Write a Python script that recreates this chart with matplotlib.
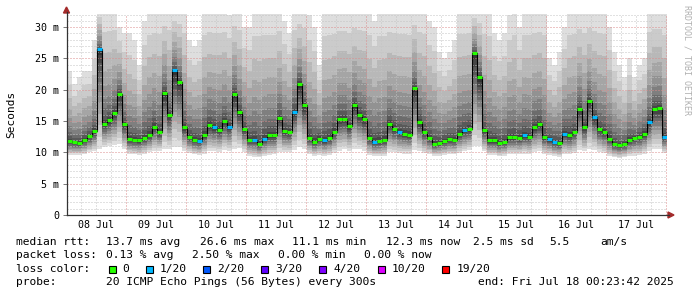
import numpy as np
import matplotlib
matplotlib.use("Agg")
import matplotlib.pyplot as plt
from matplotlib.patches import Rectangle, Polygon
from matplotlib.lines import Line2D

# ---------------- data (2-hour bins, start Jul 08 00:24) ----------------
bin_hours = 2
start_hour = 0.4  # hours after Jul 08 00:00

median_ms = [
    11.8, 11.6, 11.5, 12.0, 12.6, 13.4, 26.5, 14.6, 15.2, 16.3,
    19.3, 14.5, 12.1, 12.0, 11.9, 12.3, 12.8, 14.1, 13.2, 19.5,
    16.0, 23.1, 21.3, 14.0, 12.5, 12.0, 11.8, 12.8, 14.4, 14.0,
    13.6, 15.0, 14.1, 19.3, 16.4, 13.8, 12.0, 12.0, 11.4, 12.2,
    12.7, 12.7, 15.5, 13.4, 13.3, 16.5, 21.0, 17.5, 12.3, 11.7,
    12.2, 11.9, 12.3, 13.3, 15.3, 15.4, 14.2, 17.6, 16.0, 15.3,
    12.3, 11.7, 11.8, 12.0, 14.6, 13.8, 13.2, 13.0, 12.8, 20.3,
    14.8, 13.2, 12.3, 11.3, 11.5, 11.8, 12.1, 12.0, 13.0, 13.5,
    13.8, 25.8, 22.0, 13.5, 11.9, 11.9, 11.5, 11.6, 12.4, 12.4,
    12.3, 12.7, 12.5, 14.0, 14.5, 12.4, 12.1, 11.7, 11.5, 13.0,
    12.7, 13.2, 17.0, 14.0, 18.2, 15.6, 13.7, 13.2, 12.2, 11.3,
    11.1, 11.3, 12.0, 12.3, 12.5, 13.0, 14.8, 17.0, 17.1, 12.5,
]

smoke_max_ms = [
    23, 21, 22, 23, 23, 28, 33, 33, 33, 33, 30, 29, 29, 28, 24, 31, 33, 33, 33, 33, 33, 33, 33, 33,
    28, 27, 28, 33, 33, 33, 33, 33, 32, 33, 33, 30, 30, 33, 33, 33, 33, 33, 33, 31, 29, 33, 33, 33,
    32, 30, 24, 33, 33, 33, 33, 33, 33, 33, 33, 33, 33, 31, 33, 33, 33, 33, 33, 33, 33, 33, 33, 33,
    31, 30, 26, 25, 26, 28, 33, 33, 33, 33, 33, 33, 33, 29, 28, 29, 32, 33, 30, 33, 33, 33, 33, 33,
    25, 24, 26, 30, 33, 33, 33, 33, 33, 33, 33, 33, 30, 26, 24, 22, 25, 22, 24, 25, 33, 33, 33, 33,
]

smoke_min_ms = [
    9.6, 9.6, 9.6, 9.7, 10.0, 10.2, 10.6, 10.8, 11.0, 11.2, 11.3, 10.5, 9.8, 9.7, 9.6, 9.8, 10.0, 10.3, 10.3, 10.6, 10.6, 10.8, 10.8, 10.3,
    9.9, 9.7, 9.6, 9.8, 10.2, 10.2, 10.1, 10.4, 10.3, 10.6, 10.7, 10.1, 9.5, 9.3, 9.2, 9.4, 9.6, 9.7, 10.0, 10.0, 10.0, 10.4, 10.8, 10.5,
    9.8, 9.5, 9.6, 9.5, 9.6, 9.9, 10.3, 10.5, 10.3, 10.6, 10.5, 10.3, 9.6, 9.4, 9.4, 9.5, 10.0, 10.0, 9.9, 9.8, 9.8, 10.4, 10.2, 9.9,
    9.7, 9.5, 9.5, 9.6, 9.7, 9.7, 9.9, 10.2, 10.4, 11.0, 11.0, 10.2, 9.6, 9.6, 9.4, 9.5, 9.7, 9.7, 9.7, 9.8, 9.8, 10.0, 10.2, 9.8,
    9.6, 9.4, 9.3, 9.7, 9.7, 9.9, 10.4, 10.2, 10.6, 10.4, 10.1, 9.9, 9.5, 9.2, 9.1, 9.2, 9.4, 9.5, 9.6, 9.8, 10.3, 10.6, 10.6, 9.9,
]

# lost pings out of 20 per bin
loss_bins_1of20 = [6, 21, 26, 29, 32, 37, 39, 45, 51, 61, 66, 79, 91, 96, 97, 99, 105, 116, 119]

day_labels = ["08 Jul", "09 Jul", "10 Jul", "11 Jul", "12 Jul",
              "13 Jul", "14 Jul", "15 Jul", "16 Jul", "17 Jul"]
y_ticks = [0, 5, 10, 15, 20, 25, 30]
y_tick_labels = ["0", "5 m", "10 m", "15 m", "20 m", "25 m", "30 m"]

loss_labels = ["0", "1/20", "2/20", "3/20", "4/20", "10/20", "19/20"]
loss_colors = ["#26ff00", "#00b8ff", "#0059ff", "#5e00ff", "#7e00ff", "#dd00ff", "#ff0000"]

stats_rtt = ["13.7 ms avg", "26.6 ms max", "11.1 ms min", "12.3 ms now", "2.5 ms sd", "5.5", "am/s"]
stats_loss = ["0.13 % avg", "2.50 % max", "0.00 % min", "0.00 % now"]
probe_text = "20 ICMP Echo Pings (56 Bytes) every 300s"
end_text = "end: Fri Jul 18 00:23:42 2025"

# ---------------- figure ----------------
W, H = 697, 297
fig = plt.figure(figsize=(W / 100, H / 100), dpi=100)
fig.patch.set_facecolor("white")
MONO = "DejaVu Sans Mono"


def fx(x):
    return x / W


def fy(y):
    return 1 - y / H


ax = fig.add_axes([fx(67), fy(215), 600 / W, 201 / H])
ax.set_facecolor("white")
ax.set_xlim(start_hour, start_hour + 240)
ax.set_ylim(0, 32.1)

med = np.array(median_ms)
hi = np.array(smoke_max_ms, dtype=float)
lo = np.array(smoke_min_ms)
n = len(med)
t0 = start_hour + bin_hours * np.arange(n)
edges = np.append(t0, t0[-1] + bin_hours)

# smoke layers: outer (light) to inner (dark)
n_layers = 10
for j in range(n_layers):
    f = (n_layers - j) / n_layers
    up = med + (hi - med) * f ** 2.2
    dn = med - (med - lo) * f ** 1.2
    g = (222 - j * 19) / 255
    ax.fill_between(edges, np.append(dn, dn[-1]), np.append(up, up[-1]),
                    step="post", color=(g, g, g), lw=0, zorder=1)

# grid (drawn above smoke like rrdtool)
minor_c = "#c4c4c4"
major_c = "#dc8c8c"
dots = (0, (1, 2))
for v in range(1, 33):
    c = major_c if v % 5 == 0 else minor_c
    ax.axhline(v, color=c, ls=dots, lw=0.72, zorder=2)
for h in range(6, 241, 6):
    c = major_c if h % 24 == 0 else minor_c
    ax.axvline(h, color=c, ls=dots, lw=0.72, zorder=2)

# median line
ax.step(edges, np.append(med, med[-1]), where="post", color="black", lw=0.8, zorder=3)
seg_colors = [loss_colors[1] if i in loss_bins_1of20 else loss_colors[0] for i in range(n)]
ax.hlines(med, t0, t0 + bin_hours, colors=seg_colors, lw=2.2, zorder=4, capstyle="butt")

# axes styling
for s in ax.spines.values():
    s.set_visible(False)
ax.set_yticks(y_ticks)
ax.set_yticklabels(y_tick_labels, fontfamily=MONO, fontsize=7.2)
ax.set_xticks([12 + 24 * k for k in range(len(day_labels))])
ax.set_xticklabels(day_labels, fontfamily=MONO, fontsize=7.2)
ax.tick_params(axis="y", length=3, width=0.7, color="#777777", pad=2.5)
ax.tick_params(axis="x", length=0, pad=3.5)

axis_c = "#333333"
fig.add_artist(Line2D([fx(66.5), fx(66.5)], [fy(215), fy(12)], color=axis_c, lw=0.9,
                      transform=fig.transFigure))
fig.add_artist(Line2D([fx(66.5), fx(669)], [fy(215), fy(215)], color=axis_c, lw=0.9,
                      transform=fig.transFigure))
arrow_c = "#a32a2a"
fig.add_artist(Polygon([(fx(63.5), fy(13)), (fx(69.5), fy(13)), (fx(66.5), fy(7))],
                       closed=True, color=arrow_c, transform=fig.transFigure))
fig.add_artist(Polygon([(fx(668), fy(212)), (fx(668), fy(218)), (fx(674), fy(215))],
                       closed=True, color=arrow_c, transform=fig.transFigure))

# labels
fig.text(fx(11), fy(114), "Seconds", rotation=90, ha="center", va="center",
         fontsize=8.0, fontfamily=MONO)
fig.text(fx(687), fy(5), "RRDTOOL / TOBI OETIKER", rotation=270, ha="center", va="top",
         fontsize=6, fontfamily=MONO, color="#b0b0b0")

LF = 8.1
row_y = [242, 255.5, 269, 282.3]


def t(x, y, s):
    fig.text(fx(x), fy(y), s, ha="left", va="center", fontsize=LF, fontfamily=MONO)


t(16, row_y[0], "median rtt:")
for x, s in zip([106.5, 199.5, 292.5, 386, 473, 549, 600], stats_rtt):
    t(x, row_y[0], s)
t(16, row_y[1], "packet loss:")
for x, s in zip([106.5, 192.5, 278.5, 364.5], stats_loss):
    t(x, row_y[1], s)
t(16, row_y[2], "loss color:")
sq_x = [108.7, 145.7, 203.3, 261, 319.3, 377.7, 442.3]
lab_x = [122.5, 159.5, 217.5, 275.5, 333.5, 392, 456.5]
for sx, lx, c, s in zip(sq_x, lab_x, loss_colors, loss_labels):
    fig.add_artist(Rectangle((fx(sx), fy(272.5)), 7 / W, 7 / H, transform=fig.transFigure,
                             facecolor=c, edgecolor="black", lw=0.8))
    t(lx, row_y[2], s)
t(16, row_y[3], "probe:")
t(106.5, row_y[3], probe_text)
t(477.5, row_y[3], end_text)

fig.savefig("out.png", dpi=100, facecolor="white")
